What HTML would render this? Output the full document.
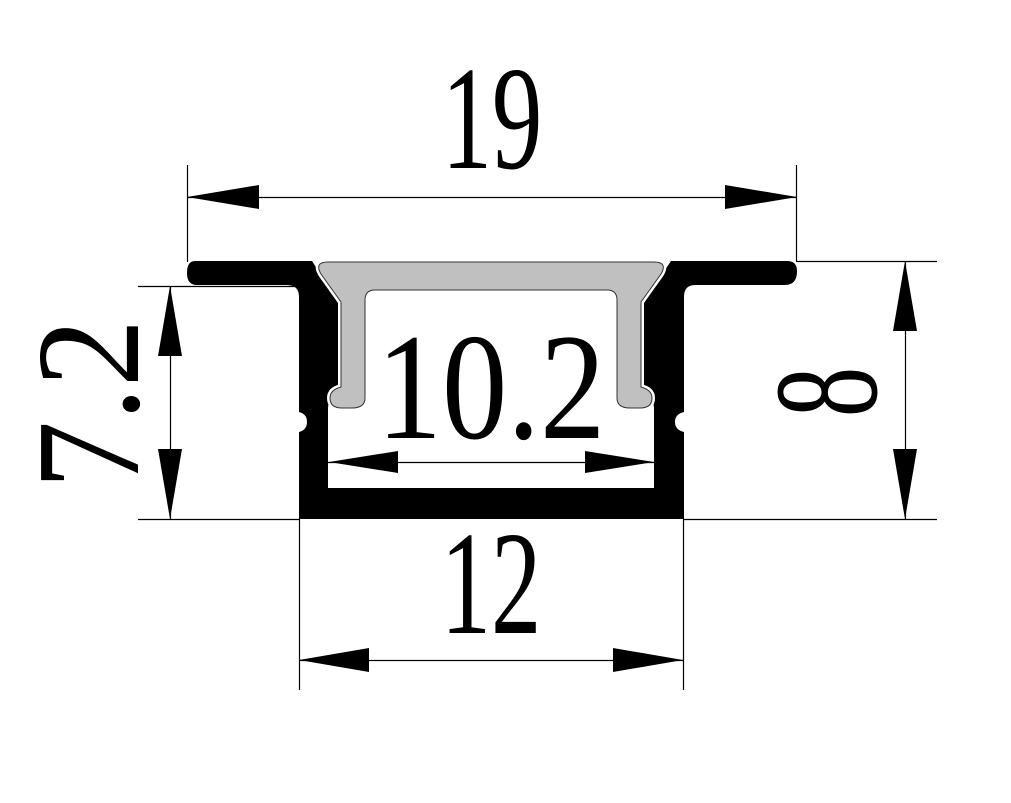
<!DOCTYPE html>
<html><head><meta charset="utf-8"><style>html,body{margin:0;padding:0;background:#fff}svg{display:block}</style></head>
<body>
<svg width="1011" height="803" viewBox="0 0 1011 803" xmlns="http://www.w3.org/2000/svg">
<rect width="1011" height="803" fill="#fff"/>
<!-- black profile -->
<path d="M 195 261 L 312 261 L 340 304 L 340 383 Q 340 393 333 396 Q 328 399 328 410 L 328 488 L 654 488 L 654 410 Q 654 399 649 396 Q 642 393 642 383 L 642 304 L 671 261 L 787 261 Q 797 261 797 271 Q 797 285 785 285 L 695 285 Q 684 285 684 297 L 684 412 Q 675 414 675 422 Q 675 430 684 432 L 684 519 L 299 519 L 299 432 Q 307 430 307 422 Q 307 414 299 412 L 299 297 Q 299 285 287 285 L 197 285 Q 187 285 187 273 Q 187 261 195 261 Z" fill="#000"/>
<!-- cover -->
<path d="M 328 262 L 654 262 Q 668 262 661 274 L 641 302 L 641 387 Q 652 390 652 398 Q 652 408 640 408 L 630 408 Q 617 408 617 398 L 617 300 Q 617 290 607 290 L 375 290 Q 365 290 365 300 L 365 398 Q 365 408 352 408 L 342 408 Q 330 408 330 398 Q 330 390 341 387 L 341 302 L 321 274 Q 314 262 328 262 Z" fill="#fff" stroke="#fff" stroke-width="6" stroke-linejoin="round"/>
<path d="M 328 262 L 654 262 Q 668 262 661 274 L 641 302 L 641 387 Q 652 390 652 398 Q 652 408 640 408 L 630 408 Q 617 408 617 398 L 617 300 Q 617 290 607 290 L 375 290 Q 365 290 365 300 L 365 398 Q 365 408 352 408 L 342 408 Q 330 408 330 398 Q 330 390 341 387 L 341 302 L 321 274 Q 314 262 328 262 Z" fill="#c0c0c0" stroke="#333" stroke-width="1"/>
<g stroke="#000" stroke-width="1.2" fill="none">
<line x1="187.5" y1="165" x2="187.5" y2="262"/><line x1="796.5" y1="165" x2="796.5" y2="262"/>
<line x1="187" y1="197.5" x2="797" y2="197.5"/>
<line x1="138" y1="286.5" x2="300" y2="286.5"/><line x1="138" y1="519.5" x2="300" y2="519.5"/>
<line x1="170.5" y1="286" x2="170.5" y2="519"/>
<line x1="797" y1="261.5" x2="937" y2="261.5"/><line x1="683" y1="519.5" x2="937" y2="519.5"/>
<line x1="905.5" y1="261" x2="905.5" y2="519"/>
<line x1="299.5" y1="519" x2="299.5" y2="690"/><line x1="683.5" y1="519" x2="683.5" y2="690"/>
<line x1="299" y1="660.5" x2="683" y2="660.5"/>
<line x1="328" y1="462.5" x2="655" y2="462.5"/>
</g>
<g fill="#000">
<polygon points="187,197 259,185 259,209"/><polygon points="797,197 725,185 725,209"/>
<polygon points="170,286 158,356 182,356"/><polygon points="170,519 158,449 182,449"/>
<polygon points="905,261 893,331 917,331"/><polygon points="905,519 893,449 917,449"/>
<polygon points="299,660 369,648 369,672"/><polygon points="683,660 613,648 613,672"/>
<polygon points="329,462 398,451 398,473"/><polygon points="654,462 585,451 585,473"/>
</g>
<g font-family="Liberation Serif, serif" fill="#000" text-anchor="middle">
<text transform="translate(492,168) scale(0.68,1)" font-size="148">19</text>
<text transform="translate(491,633) scale(0.68,1)" font-size="148">12</text>
<text transform="translate(491,438) scale(0.86,1)" font-size="152">10.2</text>
<text transform="translate(138,404) rotate(-90) scale(0.92,1)" font-size="148">7.2</text>
<text transform="translate(876,392) rotate(-90) scale(0.68,1)" font-size="148">8</text>
</g>
</svg>
</body></html>
